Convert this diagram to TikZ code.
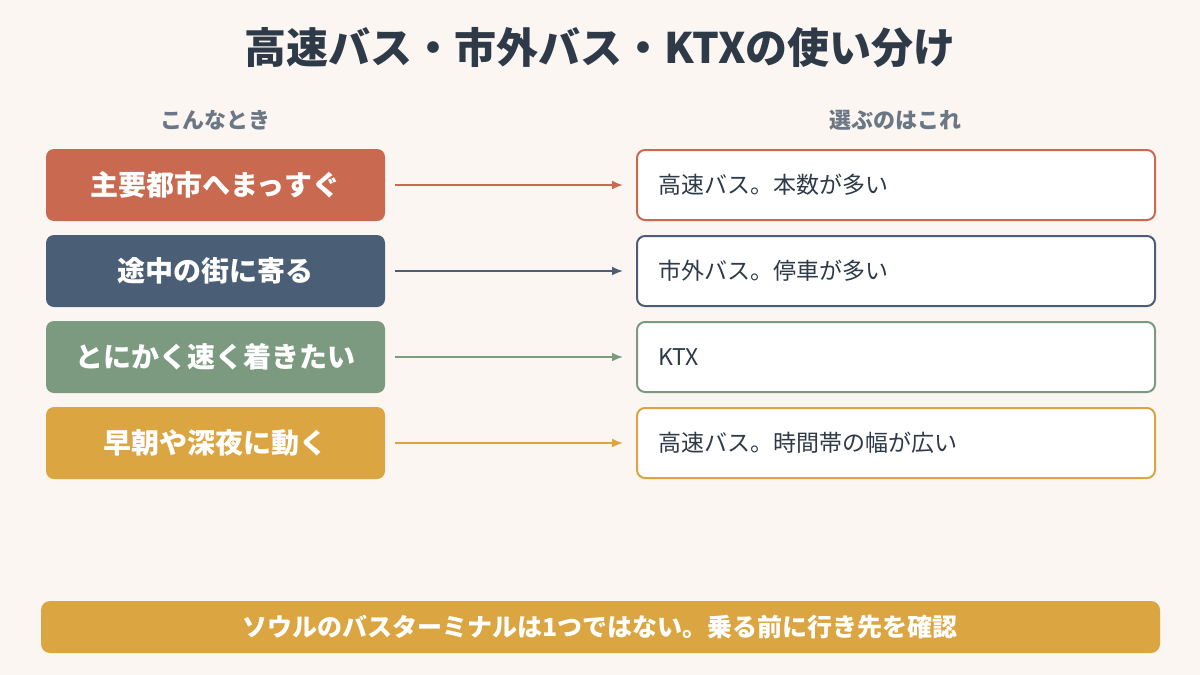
\documentclass[tikz,border=0pt]{standalone}
\usepackage{fontspec}
\usetikzlibrary{arrows.meta,calc}
\setmainfont{Noto Sans CJK JP}
\definecolor{bg}{HTML}{FBF6F2}
\definecolor{cred}{HTML}{C96A50}
\definecolor{cnavy}{HTML}{4A5E75}
\definecolor{cgreen}{HTML}{7C9A80}
\definecolor{cgold}{HTML}{DBA541}
\definecolor{ctitle}{HTML}{2E3A48}
\definecolor{chead}{HTML}{6B7785}
\begin{document}
\begin{tikzpicture}[x=1pt,y=-1pt,
  lbox/.style={rounded corners=8pt,minimum width=339pt,minimum height=72pt,text=white,font=\fontsize{28}{32}\selectfont\bfseries,inner sep=0},
  rbox/.style={rounded corners=8pt,draw,line width=2pt,fill=white,minimum width=518pt,minimum height=70pt,font=\fontsize{23}{28}\selectfont,text=ctitle,inner sep=0},
  arr/.style={line width=1.8pt,-{Latex[length=11pt,width=9pt]}}]
\useasboundingbox (0,0) rectangle (1200,675);
\fill[bg] (0,0) rectangle (1200,675);
\node[font=\fontsize{42}{48}\selectfont\bfseries,text=ctitle] (t) at (600,48) {高速バス・市外バス・KTXの使い分け};
\node[font=\fontsize{22}{26}\selectfont\bfseries,text=chead] (h1) at (215,120) {こんなとき};
\node[font=\fontsize{22}{26}\selectfont\bfseries,text=chead] (h2) at (895,120) {選ぶのはこれ};
\foreach \i/\y/\c/\l/\r in {1/185/cred/主要都市へまっすぐ/高速バス。本数が多い,
  2/271/cnavy/途中の街に寄る/市外バス。停車が多い,
  3/357/cgreen/とにかく速く着きたい/KTX,
  4/443/cgold/早朝や深夜に動く/高速バス。時間帯の幅が広い}{
  \node[lbox,fill=\c] (l\i) at (215.5,\y) {\l};
  \node[rbox,draw=\c,text width=476pt,align=left] (r\i) at (896,\y) {\r};
  \draw[arr,draw=\c,fill=\c] ($(l\i.east)+(10pt,0)$) -- ($(r\i.west)+(-13pt,0)$);
}
\fill[cgold,rounded corners=9pt] (41,601) rectangle (1160,653);
\node[font=\fontsize{25}{30}\selectfont\bfseries,text=white] (b) at (600,627) {ソウルのバスターミナルは1つではない。乗る前に行き先を確認};
\end{tikzpicture}
\end{document}
